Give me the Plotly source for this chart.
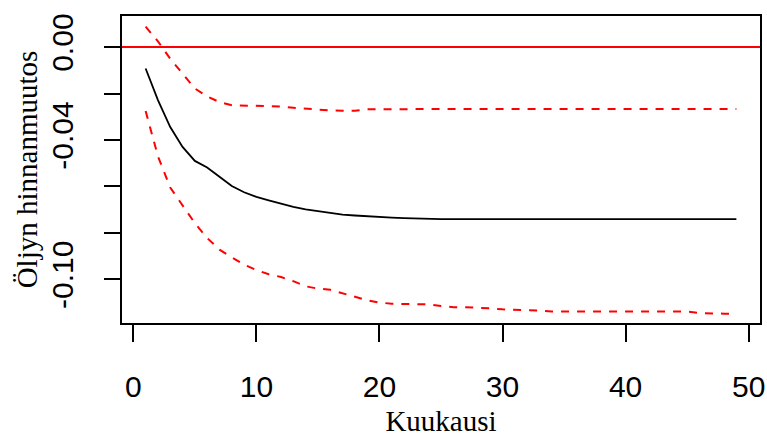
import plotly.graph_objects as go

# Data
months = list(range(1, 50))

response = [
    -0.0092, -0.0228, -0.0344, -0.0430, -0.0490, -0.0518, -0.0558, -0.0598,
    -0.0625, -0.0645, -0.0660, -0.0675, -0.0688, -0.0699, -0.0707, -0.0715,
    -0.0721, -0.0725, -0.0729, -0.0732, -0.0734, -0.0736, -0.0738, -0.0741,
    -0.0741, -0.0741, -0.0741, -0.0741, -0.0741, -0.0741, -0.0741, -0.0741,
    -0.0741, -0.0741, -0.0741, -0.0741, -0.0741, -0.0741, -0.0741, -0.0741,
    -0.0741, -0.0741, -0.0741, -0.0741, -0.0741, -0.0741, -0.0741, -0.0741,
    -0.0741,
]

upper = [
    0.0088, 0.0025, -0.0050, -0.0115, -0.0178, -0.0212, -0.0237, -0.0250,
    -0.0251, -0.0251, -0.0252, -0.0256, -0.0261, -0.0266, -0.0270, -0.0273,
    -0.0274, -0.0274, -0.0268, -0.0267, -0.0267, -0.0267, -0.0267, -0.0267,
    -0.0267, -0.0267, -0.0267, -0.0267, -0.0267, -0.0267, -0.0267, -0.0267,
    -0.0267, -0.0267, -0.0267, -0.0267, -0.0267, -0.0267, -0.0267, -0.0267,
    -0.0267, -0.0267, -0.0267, -0.0267, -0.0267, -0.0267, -0.0267, -0.0267,
    -0.0267,
]

lower = [
    -0.0275, -0.0470, -0.0605, -0.0680, -0.0758, -0.0822, -0.0872, -0.0905,
    -0.0937, -0.0960, -0.0978, -0.0990, -0.1008, -0.1030, -0.1040, -0.1045,
    -0.1060, -0.1078, -0.1090, -0.1100, -0.1105, -0.1106, -0.1107, -0.1108,
    -0.1115, -0.1120, -0.1120, -0.1121, -0.1125, -0.1129, -0.1130, -0.1131,
    -0.1135, -0.1139, -0.1139, -0.1139, -0.1139, -0.1139, -0.1139, -0.1139,
    -0.1139, -0.1139, -0.1139, -0.1139, -0.1139, -0.1145, -0.1148, -0.1148,
    -0.1148,
]

x_ticks = [0, 10, 20, 30, 40, 50]
y_ticks = [0.00, -0.02, -0.04, -0.06, -0.08, -0.10]
y_ticktext = ["0.00", "", "-0.04", "", "", "-0.10"]

x_title = "Kuukausi"
y_title = "Öljyn hinnanmuutos"

fig = go.Figure()

fig.add_hline(y=0, line=dict(color="#ff0000", width=2))

fig.add_trace(go.Scatter(x=months, y=upper, mode="lines",
                         line=dict(color="#ff0000", width=2, dash="8px,8px"),
                         showlegend=False))
fig.add_trace(go.Scatter(x=months, y=lower, mode="lines",
                         line=dict(color="#ff0000", width=2, dash="8px,8px"),
                         showlegend=False))
fig.add_trace(go.Scatter(x=months, y=response, mode="lines",
                         line=dict(color="black", width=1.8),
                         showlegend=False))

tick_font = dict(family="Liberation Sans, Arial", size=30, color="black")
title_font = dict(family="Liberation Serif, Times New Roman", size=29, color="black")

fig.update_layout(
    width=767, height=437,
    margin=dict(l=122, r=7, t=16, b=114),
    paper_bgcolor="white", plot_bgcolor="white",
    showlegend=False,
)

fig.update_xaxes(
    range=[-0.92, 50.92],
    tickvals=x_ticks,
    ticks="outside", ticklen=17, tickwidth=2, tickcolor="black",
    tickfont=tick_font,
    ticklabelstandoff=19,
    automargin=False,
    showgrid=False, zeroline=False,
    showline=True, linecolor="black", linewidth=2, mirror=True,
    title=dict(text=x_title, font=title_font, standoff=12),
)

fig.update_yaxes(
    range=[-0.1188, 0.0134],
    tickvals=y_ticks, ticktext=y_ticktext,
    tickangle=-90,
    ticks="outside", ticklen=16, tickwidth=2, tickcolor="black",
    tickfont=tick_font,
    ticklabelstandoff=19,
    automargin=False,
    showgrid=False, zeroline=False,
    showline=True, linecolor="black", linewidth=2, mirror=True,
    title=dict(text=y_title, font=title_font, standoff=0),
)

fig.write_html(
    "out.html",
    config={"displayModeBar": False},
    post_script="document.body.style.margin='0';document.body.style.overflow='hidden';",
)
